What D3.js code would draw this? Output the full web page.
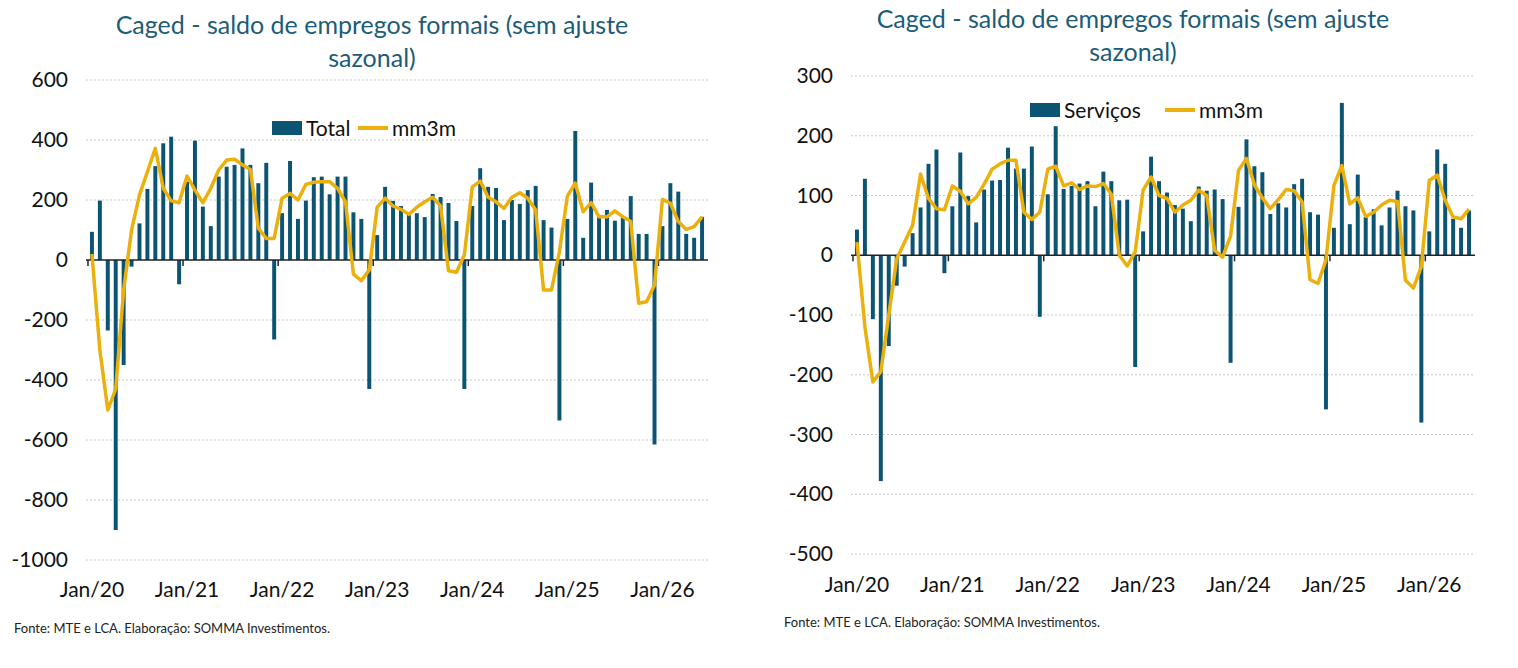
<!DOCTYPE html>
<html><head><meta charset="utf-8">
<script src="https://cdn.jsdelivr.net/npm/d3@7"></script>
<style>
body{margin:0;background:#fff;font-family:Lato,"Open Sans",sans-serif;}
</style></head>
<body><svg id="c" width="1518" height="668"></svg>
<script>
// months jan/20 .. jun/26
const months = d3.range(78).map(i => new Date(2020 + Math.floor(i / 12), i % 12, 1));

const totalBars = [94,198,-235,-900,-350,-22,122,237,313,389,411,-81,
  261,398,178,113,278,311,317,372,317,256,324,-265,
  156,330,137,198,276,278,219,278,278,159,137,-430,
  83,244,197,180,150,156,143,220,210,190,130,-430,
  180,306,244,240,133,200,187,233,247,133,108,-535,
  137,430,74,258,144,167,131,141,213,87,87,-615,
  113,256,228,87,74,144];
const totalMm3m = [20,-300,-500,-430,-100,100,217,294,372,239,197,191,
  280,233,191,239,300,333,336,317,302,106,72,72,
  206,222,200,252,259,261,261,239,194,-47,-69,-33,
  176,206,180,169,152,176,194,209,180,-36,-41,17,
  244,263,209,194,172,209,224,206,167,-100,-100,28,
  213,256,161,191,144,144,164,144,128,-144,-139,-83,
  202,189,128,102,111,144];

const servBars = [43,128,-107,-378,-152,-51,-19,37,80,153,177,-30,
  82,172,99,55,110,125,126,180,145,145,182,-103,
  102,216,111,116,120,124,82,140,124,92,93,-187,
  40,165,124,105,84,78,57,115,108,110,94,-180,
  81,194,149,139,69,87,80,119,128,72,68,-258,
  46,255,52,135,64,77,50,80,108,82,75,-280,
  40,177,153,61,46,75];
const servMm3m = [22,-120,-212,-195,-100,-6,22,50,136,95,78,76,
  116,107,86,97,119,144,153,159,159,72,60,72,
  144,149,116,121,110,116,115,120,102,0,-18,6,
  109,131,100,95,72,84,92,109,100,8,-3,32,
  142,162,118,96,78,93,110,108,89,-41,-47,-8,
  117,150,86,96,65,72,84,92,90,-42,-55,-19,
  125,134,92,64,61,77];

const totalTicks = [600,400,200,0,-200,-400,-600,-800,-1000];
const servTicks = [300,200,100,0,-100,-200,-300,-400,-500];

const BAR = "#0c5473", LINE = "#ecb00c", TITLE = "#1d5c78";
const svg = d3.select("#c");
const fmt = d3.timeFormat("%b/%y");

function drawChart(o) {
  const g = svg.append("g");
  const x = d3.scaleBand().domain(d3.range(months.length)).range([o.x0, o.x1]).padding(0.5);
  const y = d3.scaleLinear().domain(o.domain).range([o.y1, o.y0]);

  // title
  o.title.forEach((t, i) => g.append("text").attr("x", o.tx).attr("y", o.ty + i * 33)
    .attr("text-anchor", "middle").attr("fill", TITLE).attr("font-size", 25).text(t));

  // grid
  g.selectAll(".grid").data(o.ticks.filter(d => d !== 0)).join("line")
    .attr("x1", o.x0).attr("x2", o.x1).attr("y1", d => y(d)).attr("y2", d => y(d))
    .attr("stroke", "#c8c8c8").attr("stroke-dasharray", "2,2");

  g.selectAll(".yl").data(o.ticks).join("text")
    .attr("x", o.x0 - 18).attr("y", d => y(d) + 7).attr("text-anchor", "end")
    .attr("font-size", 21).attr("fill", "#111").text(d => d);

  g.selectAll(".bar").data(o.bars).join("rect")
    .attr("x", (d, i) => x(i)).attr("width", x.bandwidth())
    .attr("y", d => y(Math.max(0, d))).attr("height", d => Math.abs(y(d) - y(0)))
    .attr("fill", BAR);

  // zero axis with yearly ticks
  g.append("line").attr("x1", o.x0).attr("x2", o.x1).attr("y1", y(0)).attr("y2", y(0))
    .attr("stroke", "#222").attr("stroke-width", 1.5);
  const step = x.step();
  g.selectAll(".tk").data(d3.range(0, months.length, 12)).join("line")
    .attr("x1", i => x(i) - step * 0.25).attr("x2", i => x(i) - step * 0.25)
    .attr("y1", y(0)).attr("y2", y(0) + 6).attr("stroke", "#222").attr("stroke-width", 1.5);

  g.append("path").datum(o.line)
    .attr("d", d3.line().x((d, i) => x(i) + x.bandwidth() / 2).y(d => y(d)))
    .attr("fill", "none").attr("stroke", LINE).attr("stroke-width", 3.5).attr("stroke-linejoin", "round");

  g.selectAll(".xl").data(d3.range(0, months.length, 12)).join("text")
    .attr("x", i => x(i) + x.bandwidth() / 2).attr("y", o.xly).attr("text-anchor", "middle")
    .attr("font-size", 21).attr("fill", "#111").text(i => fmt(months[i]));

  // legend
  g.append("rect").attr("x", o.lx).attr("y", o.ly - 7).attr("width", 30).attr("height", 14).attr("fill", BAR);
  g.append("text").attr("x", o.lx + 34).attr("y", o.ly + 8).attr("font-size", 21).attr("fill", "#111").text(o.name);
  g.append("line").attr("x1", o.lx2).attr("x2", o.lx2 + 30).attr("y1", o.ly).attr("y2", o.ly)
    .attr("stroke", LINE).attr("stroke-width", 4);
  g.append("text").attr("x", o.lx2 + 34).attr("y", o.ly + 8).attr("font-size", 21).attr("fill", "#111").text("mm3m");

  g.append("text").attr("x", o.fx).attr("y", o.fy).attr("font-size", 13).attr("fill", "#222")
    .text("Fonte: MTE e LCA. Elaboração: SOMMA Investimentos.");
}

drawChart({x0: 86, x1: 708, y0: 80, y1: 560, domain: [-1000, 600], ticks: totalTicks,
  bars: totalBars, line: totalMm3m, name: "Total",
  title: ["Caged - saldo de empregos formais (sem ajuste", "sazonal)"], tx: 372, ty: 34,
  xly: 597, lx: 272, lx2: 358, ly: 128, fx: 14, fy: 633});

drawChart({x0: 851, x1: 1475, y0: 76, y1: 554, domain: [-500, 300], ticks: servTicks,
  bars: servBars, line: servMm3m, name: "Serviços",
  title: ["Caged - saldo de empregos formais (sem ajuste", "sazonal)"], tx: 1133, ty: 28,
  xly: 592, lx: 1030, lx2: 1165, ly: 110, fx: 784, fy: 627});
</script></body></html>
